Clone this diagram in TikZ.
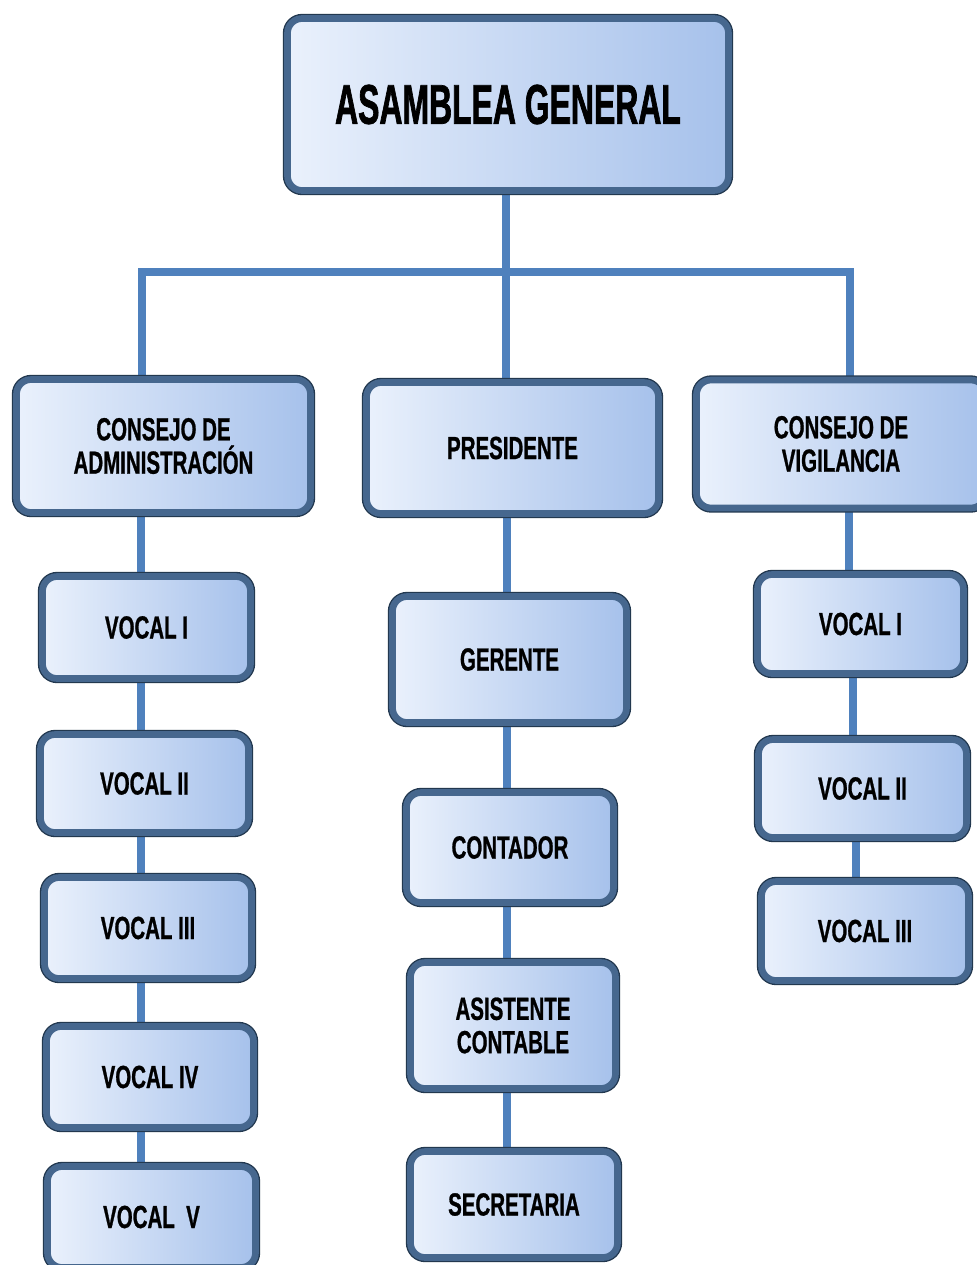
\documentclass[tikz,border=0pt]{standalone}
\usepackage{fontspec}
\setmainfont{Liberation Sans}[FakeStretch=0.64, BoldFeatures={FakeBold=0.8}]
\newfontfamily\bigfont{Liberation Sans}[FakeStretch=0.57, BoldFeatures={FakeBold=1.2}]
\usetikzlibrary{shadows,backgrounds}
\definecolor{conncol}{HTML}{4F81BD}
\definecolor{edgecol}{HTML}{46678E}
\definecolor{edgedark}{HTML}{22384F}
\definecolor{filll}{HTML}{EAF1FC}
\definecolor{fillr}{HTML}{A6C1EB}
\begin{document}
\begin{tikzpicture}[x=0.75pt,y=-0.75pt,
  orgbox/.style={rounded corners=11pt, left color=filll, right color=fillr,
    drop shadow={shadow xshift=1.5pt, shadow yshift=-2.5pt, opacity=0.35},
    preaction={draw=edgedark, line width=7pt},
    draw=edgecol, line width=5pt,
    align=center, inner sep=0pt, text=black,
    font=\bfseries\fontsize{24}{25}\selectfont},
  bsz/.style 2 args={minimum width=#1*0.75pt, minimum height=#2*0.75pt},
  conn/.style={draw=conncol, line width=6pt}]
\useasboundingbox (0,0) rectangle (976,1265);

% top
\node[orgbox, bsz={441}{172}, font=\bigfont\bfseries\fontsize{42}{44}\selectfont] (asam) at (508,104.5) {ASAMBLEA GENERAL};

% second level
\node[orgbox, bsz={294}{133}] (cadm) at (163.5,446) {CONSEJO DE\\ADMINISTRACIÓN};
\node[orgbox, bsz={292}{131}] (pres) at (512.5,448) {PRESIDENTE};
\node[orgbox, bsz={289}{128}] (cvig) at (841,444) {CONSEJO DE\\VIGILANCIA};

% left column
\node[orgbox, bsz={208}{102}] (lv1) at (146.5,627.5) {VOCAL I};
\node[orgbox, bsz={208}{98}] (lv2) at (144.5,783.5) {VOCAL II};
\node[orgbox, bsz={207}{101}] (lv3) at (148,928) {VOCAL III};
\node[orgbox, bsz={207}{101}] (lv4) at (150,1077) {VOCAL IV};
\node[orgbox, bsz={208}{101}] (lv5) at (151.5,1217) {VOCAL~~V};

% middle column
\node[orgbox, bsz={234}{126}] (ger) at (509.5,659.5) {GERENTE};
\node[orgbox, bsz={207}{110}] (cont) at (510,847.5) {CONTADOR};
\node[orgbox, bsz={205}{126}] (asis) at (513,1025.5) {ASISTENTE\\CONTABLE};
\node[orgbox, bsz={207}{106}] (sec) at (514,1204.5) {SECRETARIA};

% right column
\node[orgbox, bsz={206}{99}] (rv1) at (860.5,624) {VOCAL I};
\node[orgbox, bsz={208}{98}] (rv2) at (862.5,788.5) {VOCAL II};
\node[orgbox, bsz={207}{99}] (rv3) at (865,931) {VOCAL III};

% connector guide coordinates
\coordinate (xl) at (142,272);
\coordinate (xr) at (850,272);
\coordinate (xm) at (506,0);
\coordinate (cl) at (141,0);
\coordinate (cm) at (507,0);
\coordinate (cr1) at (849,0);
\coordinate (cr2) at (853,0);
\coordinate (cr3) at (856,0);

\begin{scope}[on background layer]
\fill[white] (0,0) rectangle (976,1265);
\draw[conn] (asam.south -| xm) -- (pres.north -| xm);
\draw[conn] (cadm.north -| xl) -- (xl) -- (xr) -- (cvig.north -| xr);
\draw[conn] (cadm.south -| cl) -- (lv1.north -| cl);
\draw[conn] (lv1.south -| cl) -- (lv2.north -| cl);
\draw[conn] (lv2.south -| cl) -- (lv3.north -| cl);
\draw[conn] (lv3.south -| cl) -- (lv4.north -| cl);
\draw[conn] (lv4.south -| cl) -- (lv5.north -| cl);
\draw[conn] (pres.south -| cm) -- (ger.north -| cm);
\draw[conn] (ger.south -| cm) -- (cont.north -| cm);
\draw[conn] (cont.south -| cm) -- (asis.north -| cm);
\draw[conn] (asis.south -| cm) -- (sec.north -| cm);
\draw[conn] (cvig.south -| cr1) -- (rv1.north -| cr1);
\draw[conn] (rv1.south -| cr2) -- (rv2.north -| cr2);
\draw[conn] (rv2.south -| cr3) -- (rv3.north -| cr3);
\end{scope}
\end{tikzpicture}
\end{document}
